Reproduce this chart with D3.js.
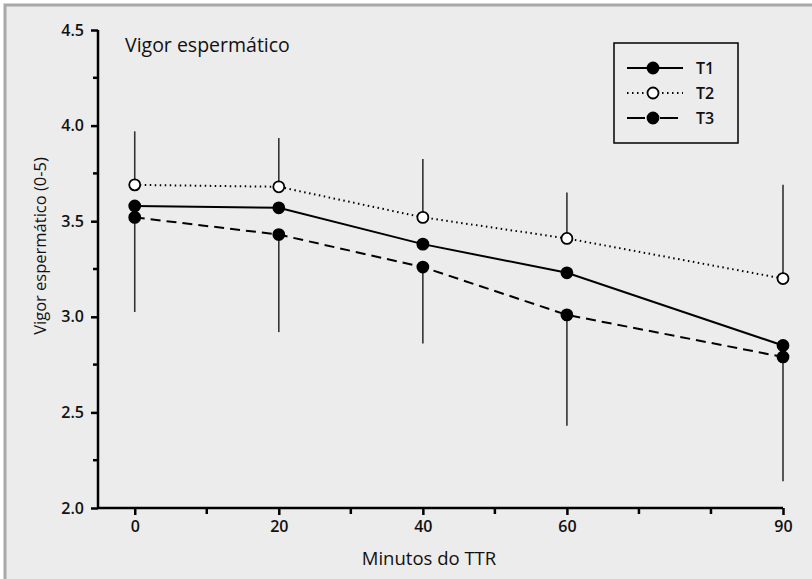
<!DOCTYPE html>
<html lang="pt"><head>
<meta charset="utf-8">
<title>vigor</title>
<script src="https://cdn.jsdelivr.net/npm/d3@7"></script>
<style>
  body { margin: 0; background: #fff; }
  text { font-family: "Open Sans", "Noto Sans", sans-serif; fill: #111; }
</style>
</head>
<body>
<svg width="812" height="579"></svg>
<script>
var minutes = [0, 20, 40, 60, 90];
var t1 = [3.58, 3.57, 3.38, 3.23, 2.85];
var t2 = [3.69, 3.68, 3.52, 3.41, 3.20];
var t3 = [3.52, 3.43, 3.26, 3.01, 2.79];
// error bars: upper drawn from T2, lower from T3
var errUpper = [3.97, 3.935, 3.825, 3.65, 3.69];
var errLower = [3.025, 2.92, 2.86, 2.43, 2.14];
var yTicks = [2.0, 2.5, 3.0, 3.5, 4.0, 4.5];
var yMinor = [2.25, 2.75, 3.25, 3.75, 4.25];
var xMinor = [10, 30, 50, 70, 80];

var svg = d3.select("svg");

// panel background + border
svg.append("rect")
  .attr("x", 5).attr("y", 5).attr("width", 900).attr("height", 900)
  .attr("fill", "#ececec").attr("stroke", "#a8a8a8").attr("stroke-width", 3);

var x = d3.scaleLinear().domain([-5.1, 90]).range([98, 783]);
var y = d3.scaleLinear().domain([2, 4.5]).range([508, 30]);

// y axis
var yAxis = svg.append("g").attr("transform", "translate(98,0)")
  .call(d3.axisLeft(y).tickValues(yTicks).tickFormat(d3.format(".1f")).tickSize(7).tickPadding(7));
yAxis.select(".domain").attr("d", "M0," + y(4.5) + "V" + y(2));
yAxis.selectAll(".tick text").attr("font-size", 16).attr("font-weight", 600);
svg.append("g").selectAll("line").data(yMinor).join("line")
  .attr("x1", 93).attr("x2", 98)
  .attr("y1", d => y(d)).attr("y2", d => y(d))
  .attr("stroke", "#000").attr("stroke-width", 2.5);

// x axis
var xAxis = svg.append("g").attr("transform", "translate(0,508)")
  .call(d3.axisBottom(x).tickValues(minutes).tickSize(7).tickPadding(6));
xAxis.select(".domain").attr("d", "M98,0H783");
xAxis.selectAll(".tick text").attr("font-size", 16).attr("font-weight", 600);
svg.append("g").selectAll("line").data(xMinor).join("line")
  .attr("x1", d => x(d)).attr("x2", d => x(d))
  .attr("y1", 508).attr("y2", 514)
  .attr("stroke", "#000").attr("stroke-width", 2.5);
svg.selectAll(".domain, .tick line").attr("stroke", "#000").attr("stroke-width", 2.5);

// error bars
svg.append("g").selectAll("line").data(minutes).join("line")
  .attr("x1", d => x(d)).attr("x2", d => x(d))
  .attr("y1", (d, i) => y(errUpper[i])).attr("y2", (d, i) => y(t2[i]))
  .attr("stroke", "#333").attr("stroke-width", 1.6);
svg.append("g").selectAll("line").data(minutes).join("line")
  .attr("x1", d => x(d)).attr("x2", d => x(d))
  .attr("y1", (d, i) => y(t3[i])).attr("y2", (d, i) => y(errLower[i]))
  .attr("stroke", "#333").attr("stroke-width", 1.6);

var series = [
  { name: "T1", values: t1, dash: null, fill: "#000" },
  { name: "T2", values: t2, dash: "1.5,3.5", fill: "#fff" },
  { name: "T3", values: t3, dash: "10,6", fill: "#000" }
];

var line = d3.line().x((d, i) => x(minutes[i])).y(d => y(d));

series.forEach(function(s) {
  svg.append("path")
    .datum(s.values)
    .attr("fill", "none")
    .attr("stroke", "#000")
    .attr("stroke-width", 2)
    .attr("stroke-dasharray", s.dash)
    .attr("d", line);
  svg.append("g").selectAll("circle").data(s.values).join("circle")
    .attr("cx", (d, i) => x(minutes[i]))
    .attr("cy", d => y(d))
    .attr("r", 5.5)
    .attr("fill", s.fill)
    .attr("stroke", "#000")
    .attr("stroke-width", 1.8);
});

// title
svg.append("text").attr("x", 125).attr("y", 52)
  .attr("font-size", 19.5).text("Vigor espermático");

// axis labels
svg.append("text").attr("x", 429).attr("y", 565)
  .attr("text-anchor", "middle").attr("font-size", 18.5).text("Minutos do TTR");
svg.append("text").attr("transform", "translate(46,246) rotate(-90)")
  .attr("text-anchor", "middle").attr("font-size", 16.5).text("Vigor espermático (0-5)");

// legend
svg.append("rect").attr("x", 614).attr("y", 43).attr("width", 124).attr("height", 100)
  .attr("fill", "none").attr("stroke", "#000").attr("stroke-width", 1.5);
var leg = svg.append("g").selectAll("g").data(series).join("g")
  .attr("transform", (d, i) => "translate(0," + (68 + i * 25) + ")");
leg.append("line").attr("x1", 627).attr("x2", d => d.name == "T3" ? 678 : 683)
  .attr("stroke", "#000").attr("stroke-width", 2)
  .attr("stroke-dasharray", d => d.name == "T3" ? "18,15" : d.dash);
leg.append("circle").attr("cx", 653).attr("r", 5.5)
  .attr("fill", d => d.fill).attr("stroke", "#000").attr("stroke-width", 1.8);
leg.append("text").attr("x", 696).attr("dy", "0.35em")
  .attr("font-size", 16).attr("font-weight", 600).text(d => d.name);
</script>
</body>
</html>
